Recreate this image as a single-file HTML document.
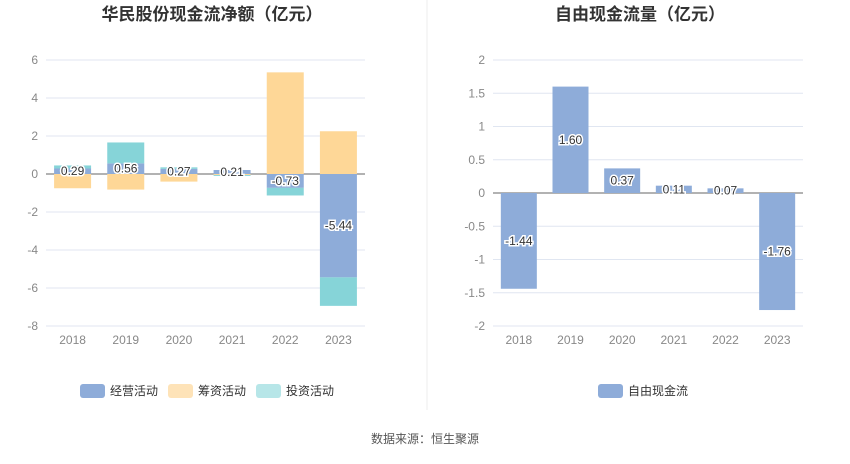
<!DOCTYPE html>
<html><head><meta charset="utf-8"><style>
body{margin:0;background:#fff;font-family:"Liberation Sans","Noto Sans CJK SC",sans-serif}
svg text{font-family:"Liberation Sans","Noto Sans CJK SC",sans-serif}
</style></head><body>
<svg id="s" width="850" height="459">
<line x1="427" y1="0" x2="427" y2="410" stroke="#eee"/>
<text x="212" y="20" text-anchor="middle" font-size="17" font-weight="bold" fill="#333">华民股份现金流净额（亿元）</text>
<text x="640" y="20" text-anchor="middle" font-size="17" font-weight="bold" fill="#333">自由现金流量（亿元）</text>
<text x="425" y="443" text-anchor="middle" font-size="12" fill="#555">数据来源：恒生聚源</text>
<g id="L"></g><g id="R"></g>
</svg>
<script>
const years=["2018","2019","2020","2021","2022","2023"];
const opVals=[0.29,0.56,0.27,0.21,-0.73,-5.44];
const finVals=[-0.75,-0.82,-0.40,-0.05,5.35,2.25];
const invVals=[0.16,1.10,0.08,-0.05,-0.40,-1.50];
const leftTicks=[6,4,2,0,-2,-4,-6,-8];
const fcfVals=[-1.44,1.60,0.37,0.11,0.07,-1.76];
const rightTicks=[2,1.5,1,0.5,0,-0.5,-1,-1.5,-2];
const NS="http://www.w3.org/2000/svg";
function mk(p,t,a){const e=document.createElementNS(NS,t);for(const k in a)e.setAttribute(k,a[k]);p.appendChild(e);return e;}
function lbl(g,x,y,s){const t=mk(g,"text",{x:x,y:y,"text-anchor":"middle","font-size":12,fill:"#333",stroke:"#fff","stroke-width":3,"paint-order":"stroke"});t.textContent=s;

}
function axis(g,x0,x1,ymap,ticks,fmt){
 ticks.forEach(v=>{const y=ymap(v);
  const l=mk(g,"line",{x1:x0,x2:x1,y1:y,y2:y,stroke:v===0?"#666":"#e0e6f1"});
  
  
  const t=mk(g,"text",{x:x0-8,y:y+4,"text-anchor":"end","font-size":12,fill:"#888"});t.textContent=fmt(v);
  
  });
 const bw=(x1-x0)/years.length;
 years.forEach((yr,i)=>{const t=mk(g,"text",{x:x0+bw*(i+.5),y:ymap(ticks[ticks.length-1])+18,"text-anchor":"middle","font-size":12,fill:"#888"});t.textContent=yr;
  
  });
 return bw;}
// left
const L=document.getElementById("L");
const ly=v=>174-v*19;
const lx0=46,lx1=365;
const lbw=axis(L,lx0,lx1,ly,leftTicks,v=>String(v));
const series=[[opVals,"#8eacd9","operating"],[finVals,"#fed797","financing"],[invVals,"#86d4d8","investing"]];
years.forEach((yr,i)=>{let pos=0,neg=0;const cx=lx0+lbw*(i+.5);
 series.forEach(([arr,c,n])=>{const v=arr[i];let a,b;
  if(v>=0){a=pos;b=pos+v;pos=b;}else{a=neg;b=neg+v;neg=b;}
  const r=mk(L,"rect",{x:cx-18.5,width:37,y:Math.min(ly(a),ly(b)),height:Math.abs(ly(a)-ly(b)),fill:c});
  
  });
 lbl(L,cx,ly(opVals[i]/2)+4,opVals[i].toFixed(2));});
// right
const R=document.getElementById("R");
const ry=v=>193-v*66.5;
const rx0=493,rx1=803;
const rbw=axis(R,rx0,rx1,ry,rightTicks,v=>String(v));
fcfVals.forEach((v,i)=>{const cx=rx0+rbw*(i+.5);
 const r=mk(R,"rect",{x:cx-18,width:36,y:Math.min(ry(0),ry(v)),height:Math.abs(ry(v)-ry(0)),fill:"#8eacd9"});
 
 
 lbl(R,cx,ry(v/2)+4,v.toFixed(2));});
// legends
const S=document.getElementById("s");
function leg(x,c,s,n){const g=mk(S,"g",{});
 
 
 mk(g,"rect",{x:x,y:384,width:25,height:14,rx:3,fill:c});
 const t=mk(g,"text",{x:x+30,y:395,"font-size":12,fill:"#333"});t.textContent=s;}
leg(80,"#8eacd9","经营活动","operating");
leg(168,"#fee3b8","筹资活动","financing");
leg(256,"#b7e6e8","投资活动","investing");
leg(598,"#8eacd9","自由现金流","fcf");
</script>
</body></html>
